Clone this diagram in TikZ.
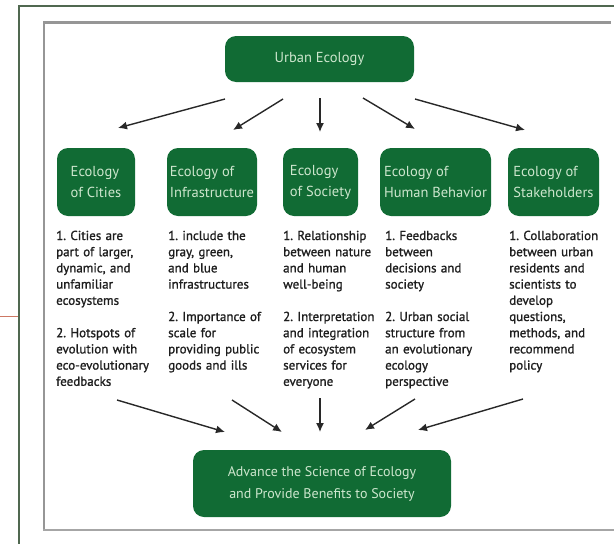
\documentclass[tikz,border=0pt]{standalone}
\usepackage{fontspec}
\setmainfont{PT Sans}
\newfontfamily\bodyfont[FakeBold=1.2]{PT Sans}
\frenchspacing
\usetikzlibrary{arrows.meta}
\definecolor{boxgreen}{RGB}{17,107,52}
\definecolor{boxtext}{RGB}{205,230,205}
\definecolor{framegreen}{RGB}{80,104,80}
\definecolor{framegray}{RGB}{150,150,150}
\definecolor{bodytext}{RGB}{30,30,30}
\definecolor{arrowgray}{RGB}{40,40,40}
\definecolor{redline}{RGB}{205,120,100}
\begin{document}
\begin{tikzpicture}[x=1pt,y=-1pt,
  greenbox/.style={fill=boxgreen, rounded corners=11pt, draw=none, text=boxtext, align=left, inner sep=0pt},
  headfont/.style={font=\fontsize{14.5}{21}\selectfont},
  bodytxt/.style={text=bodytext, anchor=base west, text width=125pt, align=left, inner sep=0pt, font=\bodyfont\fontsize{13}{16.2}\selectfont},
  arr/.style={draw=arrowgray, line width=1.4pt, -{Latex[length=9pt,width=8pt]}}
]
\useasboundingbox (0,0) rectangle (614,544);
% frames
\draw[framegreen, line width=2.2pt] (19,544) -- (19,6) -- (614,6);
\draw[redline, line width=1pt] (0,316) -- (18,316);
\draw[framegray, line width=1.5pt] (44,530) -- (44,22);
\draw[framegray, line width=3pt] (43.25,22.5) -- (611,22.5);
\draw[framegray!85, line width=1.5pt] (43.25,530) -- (614,530);

% top node
\node[greenbox, headfont, minimum width=189pt, minimum height=46pt] (urban) at (319.5,59) {Urban Ecology};

% heading boxes
\node[greenbox, headfont, minimum width=78pt, minimum height=68pt] (b1) at (96,182) {Ecology\\of Cities};
\node[greenbox, headfont, minimum width=90pt, minimum height=68pt] (b2) at (212,182) {Ecology of\\Infrastructure};
\node[greenbox, headfont, minimum width=75pt, minimum height=68pt] (b3) at (320.5,182) {Ecology\\of Society};
\node[greenbox, headfont, minimum width=111pt, minimum height=68pt] (b4) at (435.5,182) {Ecology of\\Human Behavior};
\node[greenbox, headfont, minimum width=91pt, minimum height=68pt] (b5) at (553.5,182) {Ecology of\\Stakeholders};

% body texts
\node[bodytxt] (t1) at (56,240) {1. Cities are\\part of larger,\\dynamic, and\\unfamiliar\\ecosystems\\[16.2pt]2. Hotspots of\\evolution with\\eco-evolutionary\\feedbacks};
\node[bodytxt] (t2) at (168,240) {1. include the\\gray, green,\\and blue\\infrastructures\\[16.2pt]2. Importance of\\scale for\\providing public\\goods and ills};
\node[bodytxt] (t3) at (283,240) {1. Relationship\\between nature\\and human\\well-being\\[16.2pt]2. Interpretation\\and integration\\of ecosystem\\services for\\everyone};
\node[bodytxt] (t4) at (385,240) {1. Feedbacks\\between\\decisions and\\society\\[16.2pt]2. Urban social\\structure from\\an evolutionary\\ecology\\perspective};
\node[bodytxt] (t5) at (509,240) {1. Collaboration\\between urban\\residents and\\scientists to\\develop\\questions,\\methods, and\\recommend\\policy};

% bottom node
\node[greenbox, font=\fontsize{14}{22}\selectfont, align=center, minimum width=258pt, minimum height=67pt] (adv) at (322,483.5) {Advance the Science of Ecology\\and Provide Benefits to Society};

% top arrows
\coordinate (ts1) at (225,99);  \coordinate (te1) at (118,128);
\coordinate (ts2) at (283,99);  \coordinate (te2) at (233,130);
\coordinate (ts3) at (320,98);  \coordinate (te3) at (320,132);
\coordinate (ts4) at (363,98);  \coordinate (te4) at (415,129);
\coordinate (ts5) at (415,99);  \coordinate (te5) at (525,130);
\foreach \i in {1,...,5} {\draw[arr] (ts\i) -- (te\i);}

% bottom arrows
\coordinate (bs1) at (117,400); \coordinate (be1) at (225,432);
\coordinate (bs2) at (232,400); \coordinate (be2) at (282,432);
\coordinate (bs3) at (320,398); \coordinate (be3) at (320,432);
\coordinate (bs4) at (415,399); \coordinate (be4) at (365,430);
\coordinate (bs5) at (523,399); \coordinate (be5) at (418,430);
\foreach \i in {1,...,5} {\draw[arr] (bs\i) -- (be\i);}
\end{tikzpicture}
\end{document}
